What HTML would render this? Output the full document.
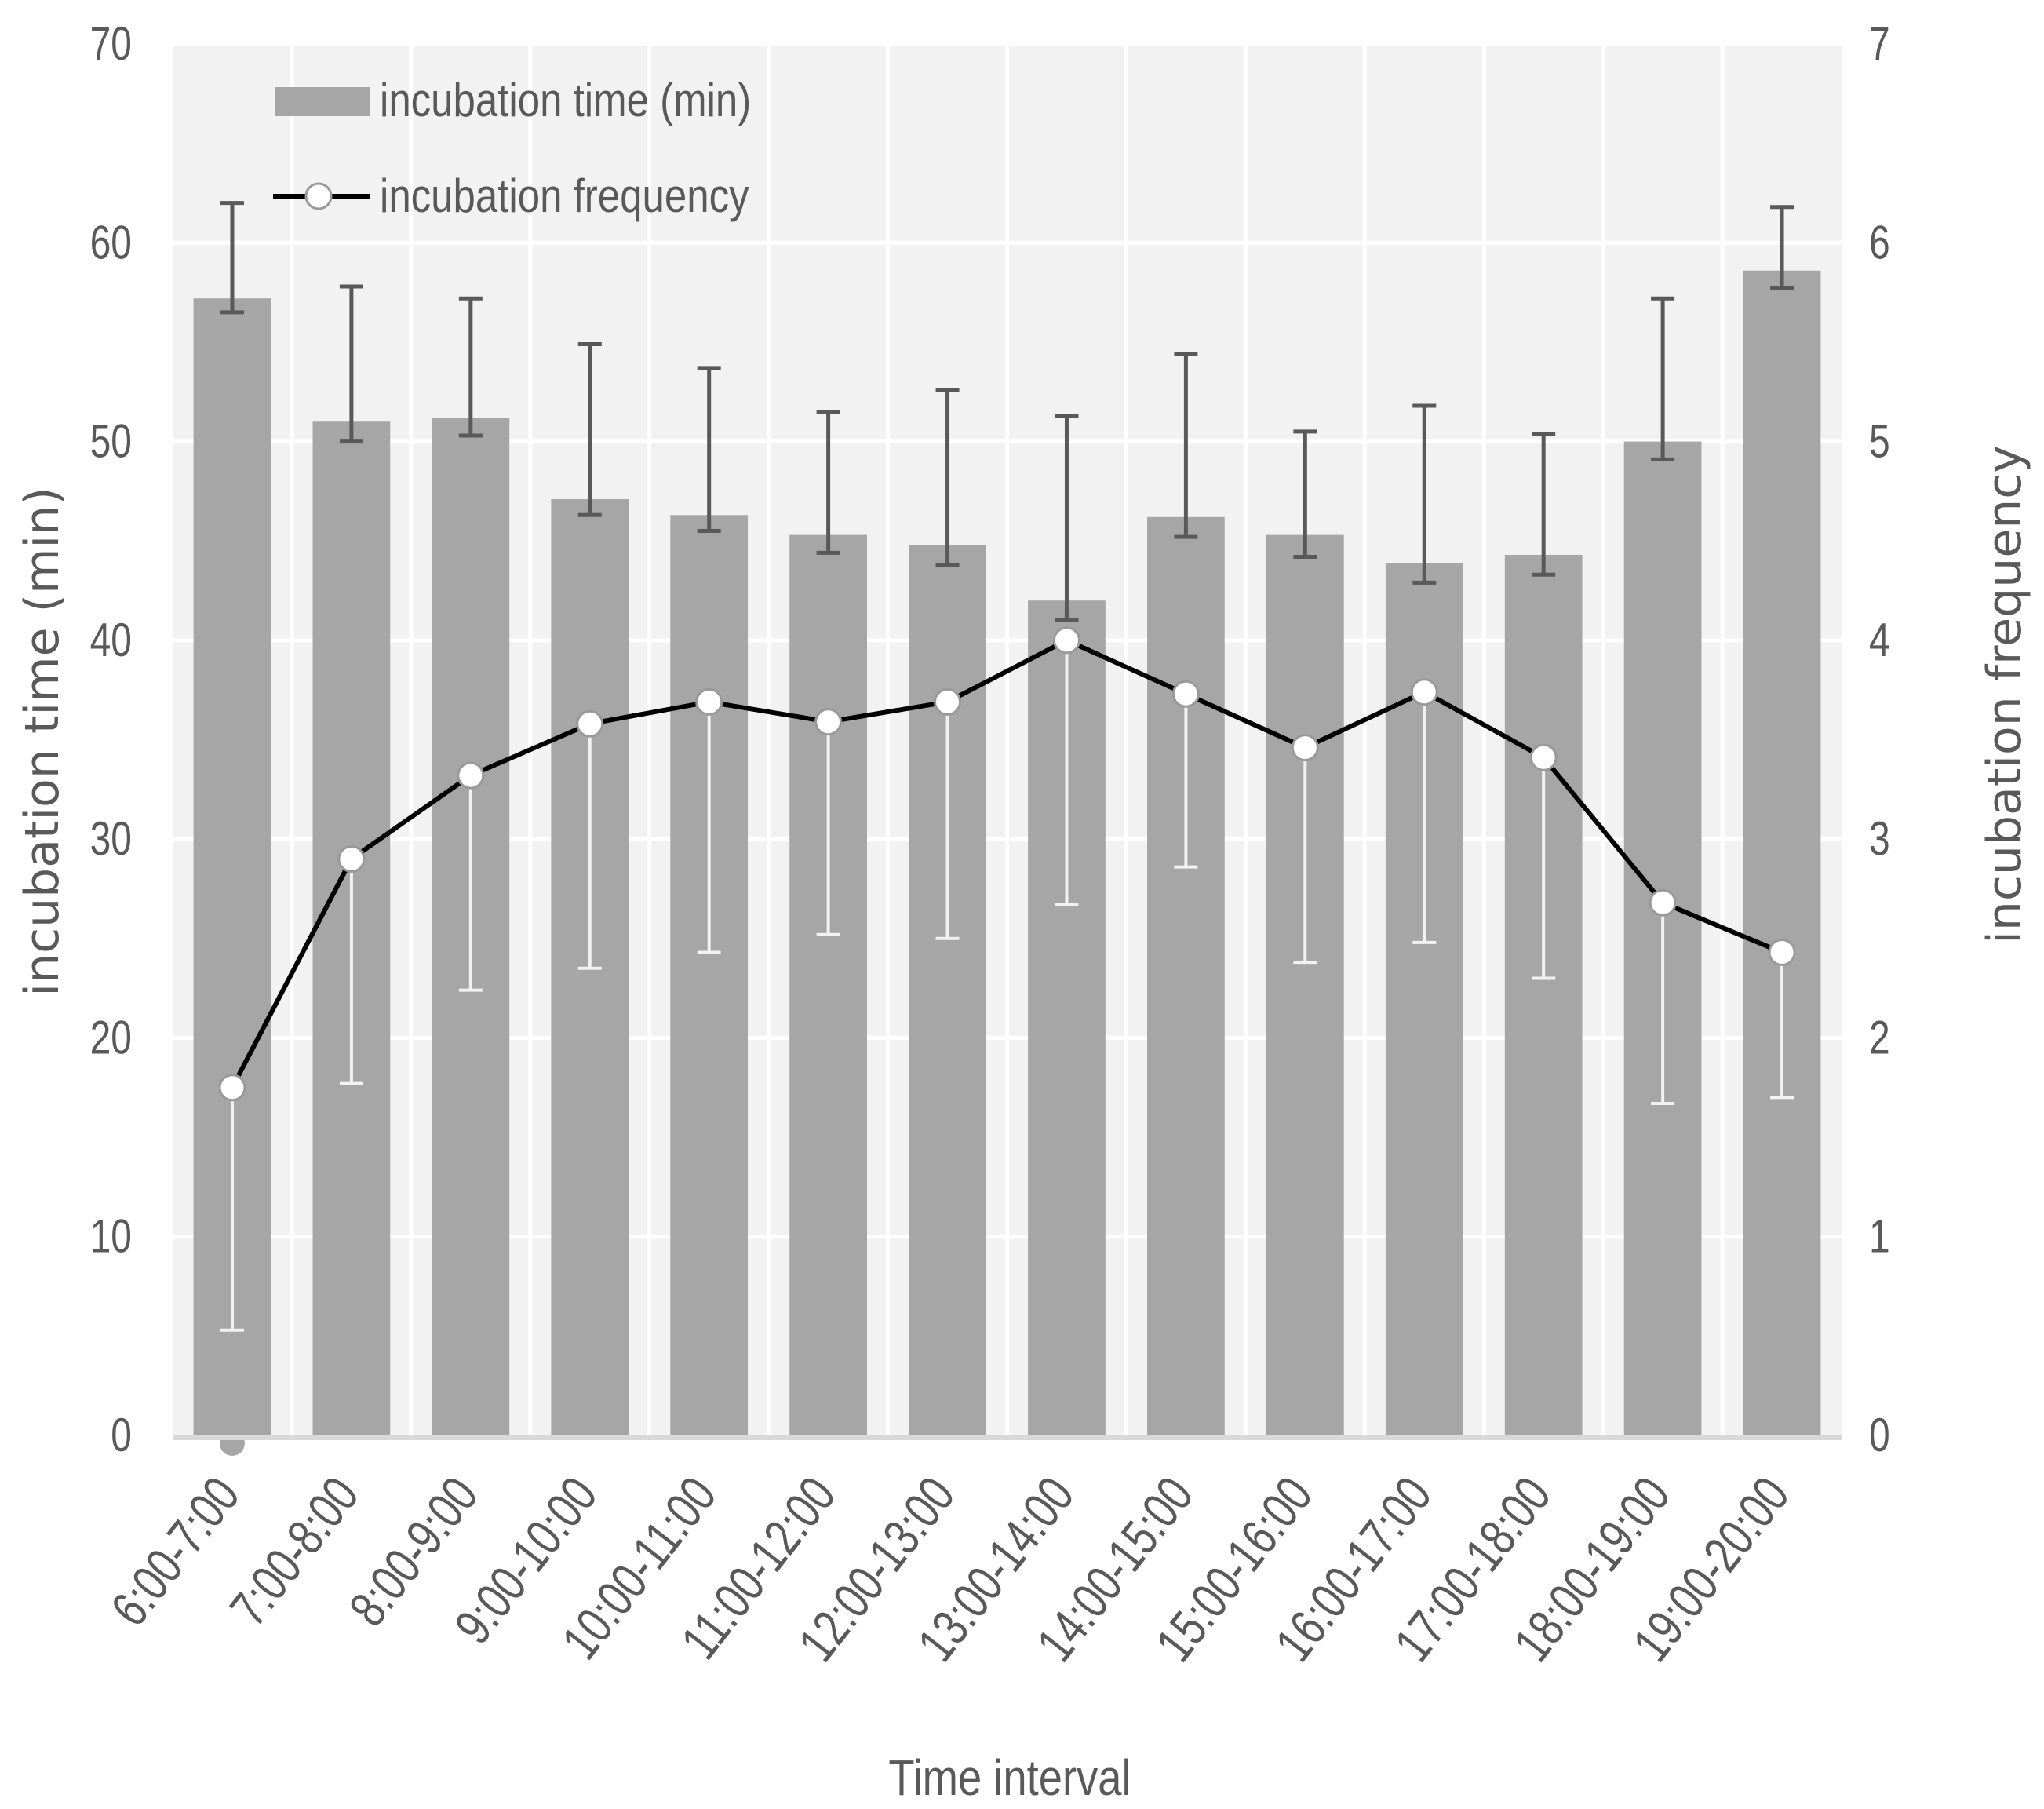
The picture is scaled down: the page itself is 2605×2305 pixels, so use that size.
<!DOCTYPE html>
<html><head><meta charset="utf-8">
<style>
html,body{margin:0;padding:0;background:#fff;}
svg{display:block;}
text{font-family:"Liberation Sans Narrow","Liberation Sans",sans-serif;fill:#595959;}
</style></head>
<body>
<svg id="chart" width="2605" height="2305" viewBox="0 0 2605 2305" xmlns="http://www.w3.org/2000/svg">
<rect x="220" y="56" width="2127" height="1773" fill="#f2f2f2"/>
<g id="grid"></g>
<g id="bars"></g>
<g id="errs"></g>
<g id="line"></g>
<g id="axes"></g>
<g>
  <rect x="351" y="111" width="120" height="37" fill="#a6a6a6"/>
  <text transform="translate(484,148) scale(0.85,1)" font-size="60">incubation time (min)</text>
  <line x1="348" y1="250" x2="471" y2="250" stroke="#000" stroke-width="6"/>
  <circle cx="406" cy="250" r="16" fill="#fff" stroke="#999" stroke-width="3"/>
  <text transform="translate(484,270) scale(0.85,1)" font-size="60">incubation frequency</text>
</g>
<text transform="translate(74,945) rotate(-90)" text-anchor="middle" font-size="60" style="font-family:'DejaVu Sans',sans-serif">incubation time (min)</text>
<text transform="translate(2575,885) rotate(-90)" text-anchor="middle" font-size="60" style="font-family:'DejaVu Sans',sans-serif">incubation frequency</text>
<text transform="translate(1287,2287) scale(0.85,1)" text-anchor="middle" font-size="64">Time interval</text>
</svg>
<script>
const categories = ["6:00-7:00","7:00-8:00","8:00-9:00","9:00-10:00","10:00-11:00","11:00-12:00","12:00-13:00","13:00-14:00","14:00-15:00","15:00-16:00","16:00-17:00","17:00-18:00","18:00-19:00","19:00-20:00"];
const timeValues = [57.2,51,51.2,47.1,46.3,45.3,44.8,42,46.2,45.3,43.9,44.3,50,58.6];
const timeErrHigh = [62,57.8,57.2,54.9,53.7,51.5,52.6,51.3,54.4,50.5,51.8,50.4,57.2,61.8];
const timeErrLow = [56.5,50,50.3,46.3,45.5,44.4,43.8,41,45.2,44.2,42.9,43.3,49.1,57.7];
const freqValues = [1.75,2.9,3.32,3.58,3.69,3.59,3.69,4.0,3.73,3.46,3.74,3.41,2.68,2.43];
const freqErrLow = [0.53,1.77,2.24,2.35,2.43,2.52,2.5,2.67,2.86,2.38,2.48,2.3,1.67,1.7];
const leftTicks = [0,10,20,30,40,50,60,70];
const rightTicks = [0,1,2,3,4,5,6,7];

const NS="http://www.w3.org/2000/svg";
const L=220,R=2347,T=56,B=1829;
const step=(R-L)/categories.length;
const xc=i=>L+(i+0.5)*step;
const yL=v=>B-(v/70)*(B-T);
const yR=v=>B-(v/7)*(B-T);
function mk(tag,attrs,parent){const e=document.createElementNS(NS,tag);for(const k in attrs)e.setAttribute(k,attrs[k]);document.getElementById(parent).appendChild(e);return e;}

leftTicks.forEach((t,i)=>{
  if(t>0){const g=mk('line',{x1:L,x2:R,y1:yL(t),y2:yL(t),stroke:'#fff','stroke-width':5},'grid');
  
  }
  const tl=mk('text',{transform:`translate(168,${yL(t)+20}) scale(0.8,1)`,'text-anchor':'end','font-size':60},'axes');tl.textContent=t;
  
  
});
rightTicks.forEach(t=>{
  const tr=mk('text',{transform:`translate(2382,${yR(t)+20}) scale(0.8,1)`,'text-anchor':'start','font-size':60},'axes');tr.textContent=t;
  
  
});
for(let i=1;i<categories.length;i++){
  const v=mk('line',{x1:L+i*step,x2:L+i*step,y1:T,y2:B,stroke:'#fff','stroke-width':5},'grid');
  
  
}
const base=mk('line',{x1:L,x2:R,y1:B+3,y2:B+3,stroke:'#d9d9d9','stroke-width':6},'axes');



const bw=step*0.65;
categories.forEach((c,i)=>{
  const b=mk('rect',{x:xc(i)-bw/2,y:yL(timeValues[i]),width:bw,height:B-yL(timeValues[i]),fill:'#a6a6a6'},'bars');
  
  
  const e=mk('path',{d:`M${xc(i)},${yL(timeErrHigh[i])}V${yL(timeErrLow[i])}M${xc(i)-15},${yL(timeErrHigh[i])}h30M${xc(i)-15},${yL(timeErrLow[i])}h30`,stroke:'#595959','stroke-width':5,fill:'none'},'errs');
  
  
  const f=mk('path',{d:`M${xc(i)},${yR(freqValues[i])}V${yR(freqErrLow[i])}M${xc(i)-15},${yR(freqErrLow[i])}h30`,stroke:'#f2f2f2','stroke-width':4,fill:'none'},'errs');
  
  
  const tx=xc(i)+12, ty=1905;
  const lab=mk('text',{'text-anchor':'end','font-size':66,transform:`translate(${tx},${ty}) rotate(-52) scale(0.78,1)`},'axes');
  lab.textContent=c;
  
  
});
const dot=mk('circle',{cx:xc(0),cy:B+10,r:16,fill:'#a6a6a6'},'line');


const pl=mk('polyline',{points:freqValues.map((v,i)=>xc(i)+','+yR(v)).join(' '),fill:'none',stroke:'#000','stroke-width':6},'line');


freqValues.forEach((v,i)=>{
  const m=mk('circle',{cx:xc(i),cy:yR(v),r:16,fill:'#fff',stroke:'#999','stroke-width':3},'line');
  
  
});
</script>
</body></html>
